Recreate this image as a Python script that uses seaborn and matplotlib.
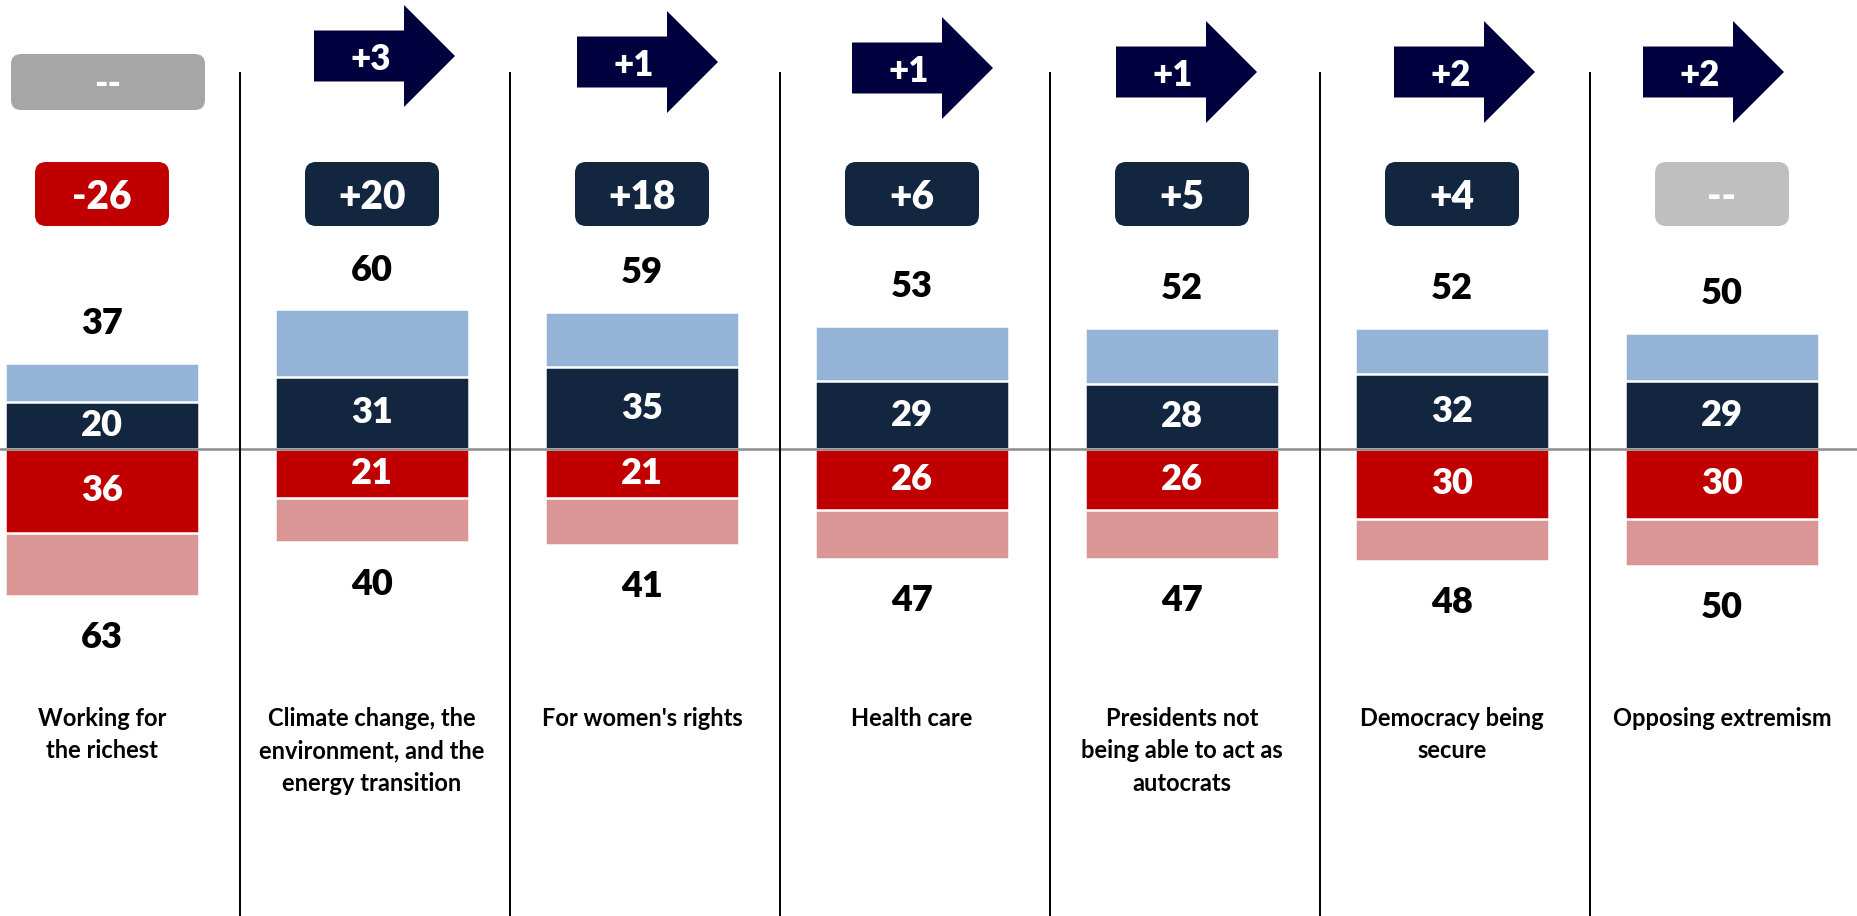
import matplotlib
matplotlib.use("Agg")
import matplotlib.pyplot as plt
import matplotlib.patches as mpatches
from matplotlib.transforms import IdentityTransform
import seaborn as sns

# data
categories = ["Working for\nthe richest",
              "Climate change, the\nenvironment, and the\nenergy transition",
              "For women's rights",
              "Health care",
              "Presidents not\nbeing able to act as\nautocrats",
              "Democracy being\nsecure",
              "Opposing extremism"]
total_pos = [37, 60, 59, 53, 52, 52, 50]
strong_pos = [20, 31, 35, 29, 28, 32, 29]
strong_neg = [36, 21, 21, 26, 26, 30, 30]
total_neg = [63, 40, 41, 47, 47, 48, 50]
net_labels = ["-26", "+20", "+18", "+6", "+5", "+4", "--"]
change_labels = ["--", "+3", "+1", "+1", "+1", "+2", "+2"]

# colours
c_light = "#95B3D7"
c_navy = "#13263F"
c_red = "#C00000"
c_pink = "#D99694"
c_arrow = "#00003F"

sns.set_theme(style="white")
plt.rcParams["font.family"] = ["Lato", "DejaVu Sans"]
plt.rcParams["font.weight"] = "bold"
NUMW = "heavy"

W, H = 1858, 916
fig = plt.figure(figsize=(W / 100, H / 100), dpi=100)
ax = fig.add_axes([0, 0, 1, 1])

# stacked diverging bars (total behind, strong in front)
kw = dict(x=categories, width=0.715, edgecolor="white", linewidth=1.8, saturation=1, ax=ax)
sns.barplot(y=total_pos, color=c_light, **kw)
sns.barplot(y=strong_pos, color=c_navy, **kw)
sns.barplot(y=[-v for v in total_neg], color=c_pink, **kw)
sns.barplot(y=[-v for v in strong_neg], color=c_red, **kw)

ax.set_xlim(-102 / 270, (W - 102) / 270)
ax.set_ylim((449 - H) / 2.33, 449 / 2.33)
ax.axis("off")

# labels inside strong bars
ax.bar_label(ax.containers[1], labels=[str(v) for v in strong_pos], label_type="center",
             color="white", fontsize=26, fontweight=NUMW)
ax.bar_label(ax.containers[3], labels=[str(v) for v in strong_neg], label_type="center",
             color="white", fontsize=26, fontweight=NUMW)

# totals above / below
for rect, v in zip(ax.containers[0], total_pos):
    top = max(rect.get_y(), rect.get_y() + rect.get_height())
    ax.annotate(str(v), (rect.get_x() + rect.get_width() / 2, top),
                xytext=(0, 39), textcoords="offset pixels", ha="center", va="center",
                fontsize=26, fontweight=NUMW, color="black")
for rect, v in zip(ax.containers[2], total_neg):
    bottom = min(rect.get_y(), rect.get_y() + rect.get_height())
    ax.annotate(str(v), (rect.get_x() + rect.get_width() / 2, bottom),
                xytext=(0, -42), textcoords="offset pixels", ha="center", va="center",
                fontsize=26, fontweight=NUMW, color="black")

# zero line and separators
ax.axhline(0, color="#8C8C8C", lw=1.8, zorder=5)
ax.vlines([i + 0.51 for i in range(len(categories) - 1)], (449 - H) / 2.33, (449 - 72) / 2.33,
          color="black", lw=1.4, zorder=5)

# category labels
for i, cat in enumerate(categories):
    ax.text(i, 1 - 707 / H, cat, transform=ax.get_xaxis_transform(), ha="center", va="top",
            fontsize=17, fontweight="bold", color="black", linespacing=1.5)

ident = IdentityTransform()
centers = [ax.transData.transform((i, 0))[0] for i in range(len(categories))]

# net boxes
for cx, lab in zip(centers, net_labels):
    if lab == "--":
        fc = "#BFBFBF"
    elif lab.startswith("-"):
        fc = c_red
    else:
        fc = c_navy
    bw, bh, cy = 134, 64, H - 194
    box = mpatches.FancyBboxPatch((cx - bw / 2, cy - bh / 2), bw, bh,
                                  boxstyle="round,pad=0,rounding_size=11",
                                  fc=fc, ec="none", transform=ident, zorder=6)
    ax.add_patch(box)
    ax.text(cx, cy, lab, transform=ident, ha="center", va="center_baseline",
            fontsize=28, fontweight=NUMW, color="white", zorder=7)

# change row: grey box for first, arrows for others
arrow_dx = [None, -58, -65, -60, -66, -58, -79]
arrow_y = [None, 56, 62, 68, 72, 72, 72]
for i, (cx, lab) in enumerate(zip(centers, change_labels)):
    if arrow_dx[i] is None:
        bw, bh, cy = 194, 56, H - 82
        box = mpatches.FancyBboxPatch((cx + 6 - bw / 2, cy - bh / 2), bw, bh,
                                      boxstyle="round,pad=0,rounding_size=10",
                                      fc="#A6A6A6", ec="none", transform=ident, zorder=6)
        ax.add_patch(box)
        ax.text(cx + 6, cy, lab, transform=ident, ha="center", va="center_baseline",
                fontsize=26, fontweight=NUMW, color="white", zorder=7)
        continue
    x0 = cx + arrow_dx[i]
    y0 = H - arrow_y[i]
    arr = mpatches.FancyArrow(x0, y0, 141, 0, width=51, head_width=102, head_length=51,
                              length_includes_head=True, fc=c_arrow, ec="none",
                              transform=ident, zorder=6)
    ax.add_patch(arr)
    ax.text(x0 + 57, y0, lab, transform=ident, ha="center", va="center_baseline",
            fontsize=25, fontweight=NUMW, color="white", zorder=7)

fig.savefig("out.png", dpi=100)
